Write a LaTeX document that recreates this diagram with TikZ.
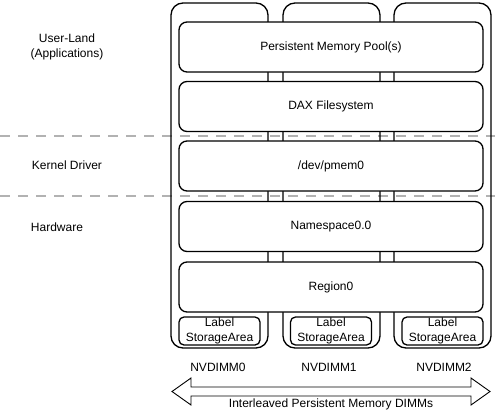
\documentclass[tikz,border=0pt]{standalone}
\usepackage{fontspec}
\setmainfont{Liberation Sans}
\begin{document}
\begin{tikzpicture}[x=1pt,y=-1pt,
  every node/.style={font=\fontsize{12}{15}\selectfont, inner sep=0pt, align=center},
  colbox/.style={draw, line width=1.3pt, rounded corners=12pt, minimum width=97pt, minimum height=345pt},
  layer/.style={draw, line width=1.3pt, rounded corners=8pt, fill=white, minimum width=304pt, minimum height=50pt},
  lsa/.style={draw, line width=1.3pt, rounded corners=5pt, fill=white, minimum width=81pt, minimum height=28pt},
  sep/.style={draw=black!30, line width=2.2pt, dash pattern=on 10pt off 8pt},
  blockarrow/.style={draw, line width=0.9pt, fill=white}
]
\useasboundingbox (0,0) rectangle (495,410);
% separators
\draw[sep] (0,136) -- (495,136);
\draw[sep] (0,196) -- (495,196);
% columns
\node[colbox] (c0) at (219.5,175.5) {};
\node[colbox] (c1) at (331.5,175.5) {};
\node[colbox] (c2) at (442.5,175.5) {};
% layers
\node[layer] (pool) at (331,47) {Persistent Memory Pool(s)};
\node[layer] (dax) at (331,106.5) {DAX Filesystem};
\node[layer] (pmem) at (331,166) {/dev/pmem0};
\node[layer] (ns) at (331,226.5) {Namespace0.0};
\node[layer] (reg) at (331,287) {Region0};
% label storage areas
\node[lsa] (l0) at (219.5,331) {Label\\StorageArea};
\node[lsa] (l1) at (331,331) {Label\\StorageArea};
\node[lsa] (l2) at (442.5,331) {Label\\StorageArea};
% dimm names
\node (n0) at (218,367) {NVDIMM0};
\node (n1) at (329,367) {NVDIMM1};
\node (n2) at (444,367) {NVDIMM2};
% left labels
\node (ul) at (67,47) {User-Land\\(Applications)};
\node (kd) at (67,165) {Kernel Driver};
\node (hw) at (57,227) {Hardware};
% double block arrow
\draw[blockarrow] (172,391.5) -- (191,378) -- (191,387) -- (471,387) -- (471,378) -- (490,391.5)
  -- (471,405) -- (471,396) -- (191,396) -- (191,405) -- cycle;
\node (il) at (331,404.5) {Interleaved Persistent Memory DIMMs};
\end{tikzpicture}
\end{document}
